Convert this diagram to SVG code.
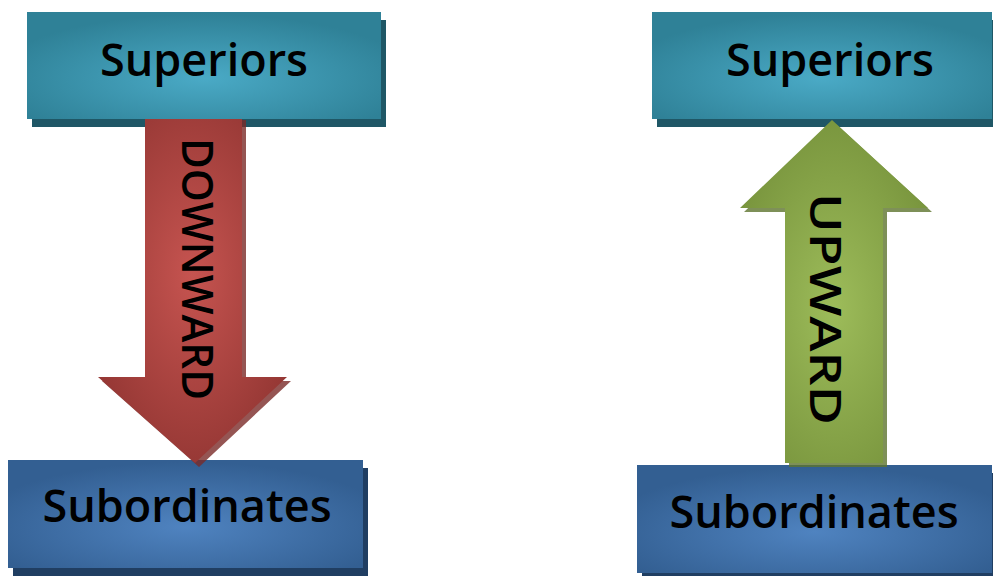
<svg xmlns="http://www.w3.org/2000/svg" width="993" height="576" viewBox="0 0 993 576">
  <defs>
    <radialGradient id="teal" cx="50%" cy="62%" r="60%">
      <stop offset="0" stop-color="#4aaac6"/>
      <stop offset="1" stop-color="#2f8197"/>
    </radialGradient>
    <radialGradient id="blue" cx="50%" cy="62%" r="60%">
      <stop offset="0" stop-color="#4f83c0"/>
      <stop offset="1" stop-color="#335f92"/>
    </radialGradient>
    <radialGradient id="red" cx="50%" cy="45%" r="60%">
      <stop offset="0" stop-color="#c65450"/>
      <stop offset="1" stop-color="#933633"/>
    </radialGradient>
    <radialGradient id="green" cx="50%" cy="55%" r="60%">
      <stop offset="0" stop-color="#9dbc5a"/>
      <stop offset="1" stop-color="#77933c"/>
    </radialGradient>
    <filter id="soft" x="-5%" y="-5%" width="110%" height="110%">
      <feGaussianBlur stdDeviation="0.6"/>
    </filter>
  </defs>
  <style>
    .label { font-family: "Open Sans", "Noto Sans", sans-serif; font-weight: 600; fill: #000; text-anchor: middle; }
    .box-text { font-size: 45px; }
    .arrow-text { font-size: 43px; }
    .shadow-teal { fill: #1f5766; }
    .shadow-blue { fill: #203e62; }
  </style>

  <rect width="993" height="576" fill="#fff"/>

  <!-- left column -->
  <g id="superiors-left">
    <rect class="shadow-teal" x="32" y="20" width="354" height="107"/>
    <rect x="27" y="12" width="354" height="107" fill="url(#teal)"/>
    <text class="label box-text" x="204" y="76">Superiors</text>
  </g>
  <g id="subordinates-left">
    <rect class="shadow-blue" x="13" y="468" width="355" height="108"/>
    <rect x="8" y="460" width="355" height="108" fill="url(#blue)"/>
    <text class="label box-text" x="187" y="522">Subordinates</text>
  </g>

  <!-- right column -->
  <g id="superiors-right">
    <rect class="shadow-teal" x="657" y="20" width="340" height="107"/>
    <rect x="652" y="12" width="340" height="107" fill="url(#teal)"/>
    <text class="label box-text" x="830" y="76">Superiors</text>
  </g>
  <g id="subordinates-right">
    <rect class="shadow-blue" x="642" y="473" width="355" height="108"/>
    <rect x="637" y="465" width="355" height="108" fill="url(#blue)"/>
    <text class="label box-text" x="814" y="528">Subordinates</text>
  </g>

  <!-- connectors -->
  <g id="connectors">
    <g id="downward">
      <polygon points="149,120 246,120 246,381 291,381 199,467 102,381 149,381" fill="#7a2a28" opacity="0.8"/>
      <polygon points="145,119 242,119 242,377 287,377 195,463 98,377 145,377" fill="url(#red)"/>
      <text class="label arrow-text" transform="translate(197,269) rotate(90)" y="15" textLength="262" lengthAdjust="spacingAndGlyphs">DOWNWARD</text>
    </g>
    <g id="upward">
      <polygon points="836,124 932,212 887,212 887,467 789,467 789,212 744,212" fill="#5e742e" opacity="0.8"/>
      <polygon points="832,120 928,208 883,208 883,463 785,463 785,208 740,208" fill="url(#green)"/>
      <text class="label arrow-text" transform="translate(826,309) rotate(90)" y="16" font-size="47" textLength="232" lengthAdjust="spacingAndGlyphs">UPWARD</text>
    </g>
  </g>
</svg>
